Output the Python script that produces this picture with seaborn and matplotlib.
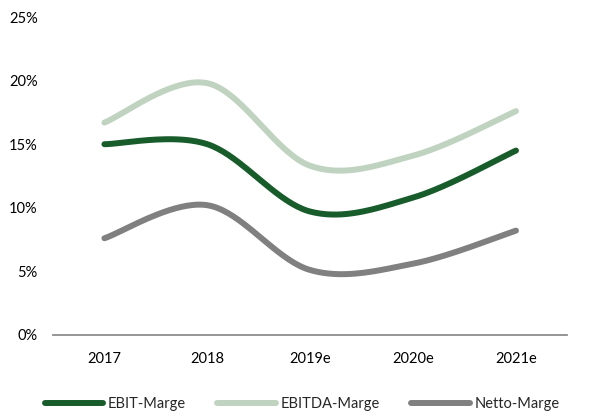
import numpy as np
import pandas as pd
import seaborn as sns
import matplotlib.pyplot as plt
from matplotlib.ticker import PercentFormatter
from matplotlib.lines import Line2D

years = ['2017', '2018', '2019e', '2020e', '2021e']
ebit = [15.0, 15.0, 9.7, 10.8, 14.5]
ebitda = [16.7, 19.8, 13.3, 14.1, 17.6]
netto = [7.6, 10.2, 5.1, 5.6, 8.2]

series = ['EBIT-Marge', 'EBITDA-Marge', 'Netto-Marge']
colors = ['#195c2c', '#c0d3c1', '#808080']


def smooth(y, n=40):
    # Excel-like smoothed line: cubic Bezier through points (Catmull-Rom control points)
    x = np.arange(len(y), dtype=float)
    y = np.asarray(y, dtype=float)
    px, py = [], []
    for i in range(len(y) - 1):
        x0, x3 = x[i], x[i + 1]
        y0, y3 = y[i], y[i + 1]
        xm, ym = (x[i - 1], y[i - 1]) if i > 0 else (x0, y0)
        xp, yp = (x[i + 2], y[i + 2]) if i + 2 < len(y) else (x3, y3)
        x1, y1 = x0 + (x3 - xm) / 6, y0 + (y3 - ym) / 6
        x2, y2 = x3 - (xp - x0) / 6, y3 - (yp - y0) / 6
        t = np.linspace(0, 1, n)
        px.append((1-t)**3*x0 + 3*(1-t)**2*t*x1 + 3*(1-t)*t**2*x2 + t**3*x3)
        py.append((1-t)**3*y0 + 3*(1-t)**2*t*y1 + 3*(1-t)*t**2*y2 + t**3*y3)
    return np.concatenate(px), np.concatenate(py)


frames = []
for name, vals in zip(series, [ebit, ebitda, netto]):
    sx, sy = smooth(vals)
    frames.append(pd.DataFrame({'x': sx, 'y': sy, 'Serie': name}))
df = pd.concat(frames, ignore_index=True)

sns.set_theme(style='white')
plt.rcParams['font.family'] = ['Lato', 'DejaVu Sans']

fig = plt.figure(figsize=(5.92, 4.17), dpi=100)
ax = fig.add_axes([0.0895, 0.197, 0.869, 0.762])

sns.lineplot(data=df, x='x', y='y', hue='Serie', palette=colors, sort=False,
             linewidth=4.3, legend=False, ax=ax, solid_capstyle='round')

ax.set_xlim(-0.5, 4.5)
ax.set_ylim(0, 25)
ax.set_yticks([0, 5, 10, 15, 20, 25])
ax.yaxis.set_major_formatter(PercentFormatter(decimals=0))
ax.set_xticks(range(len(years)))
ax.set_xticklabels(years)
ax.set_xlabel('')
ax.set_ylabel('')
ax.tick_params(axis='both', length=0, labelsize=10.5, colors='#000000')
ax.tick_params(axis='x', pad=12)
ax.tick_params(axis='y', pad=11)
for s in ['top', 'right', 'left']:
    ax.spines[s].set_visible(False)
ax.spines['bottom'].set_color('#8c8c8c')
ax.spines['bottom'].set_linewidth(1.3)

handles = [Line2D([0], [0], color=c, lw=4.3, solid_capstyle='round') for c in colors]
fig.legend(handles, series, loc='lower center', bbox_to_anchor=(0.51, -0.018), ncol=3,
           frameon=False, fontsize=10.5, handlelength=4.0, handletextpad=0.3,
           columnspacing=2.2)

fig.savefig('out.png', dpi=100)
